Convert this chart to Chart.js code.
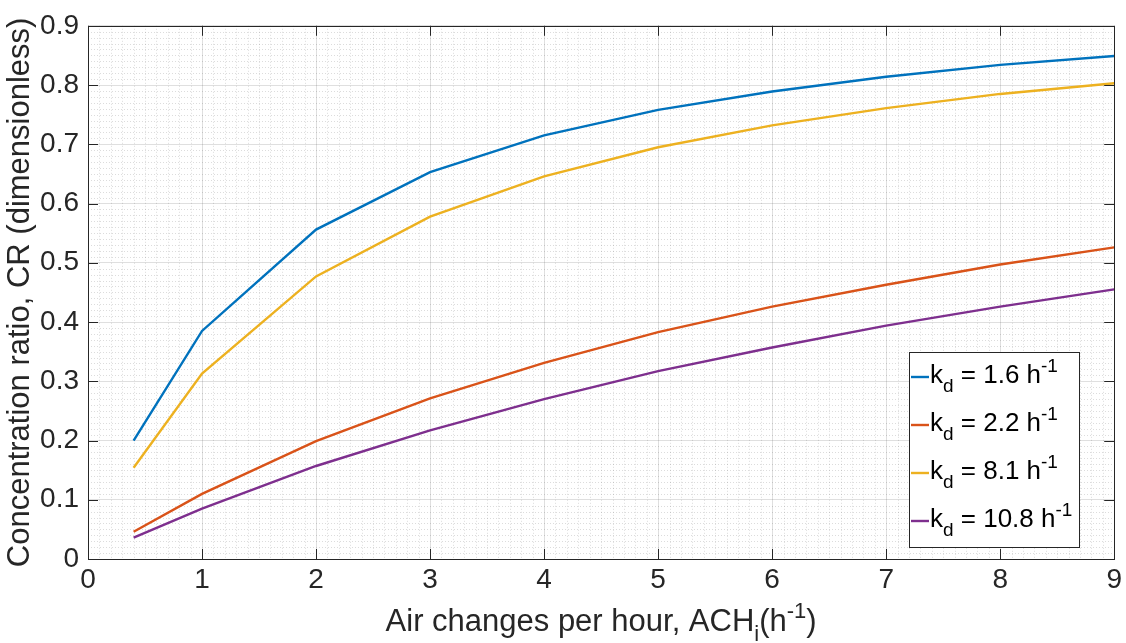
<!DOCTYPE html>
<html>
<head>
<meta charset="utf-8">
<script src="https://cdn.jsdelivr.net/npm/chart.js@4.4.0/dist/chart.umd.min.js"></script>
<style>
  html, body { margin: 0; padding: 0; background: #fff; }
  canvas { display: block; }
</style>
</head>
<body>
<canvas id="chartCR" width="1126" height="643"></canvas>
<script>
// air changes per hour (x)
const ach = [0.4, 1, 2, 3, 4, 5, 6, 7, 8, 9];
// concentration ratio for each deposition rate kd
const cr16 = [0.200, 0.385, 0.556, 0.653, 0.715, 0.758, 0.789, 0.814, 0.834, 0.849];
const cr22 = [0.046, 0.110, 0.199, 0.271, 0.331, 0.383, 0.426, 0.463, 0.497, 0.526];
const cr81 = [0.154, 0.313, 0.477, 0.578, 0.646, 0.695, 0.732, 0.761, 0.785, 0.803];
const cr108 = [0.036, 0.085, 0.157, 0.217, 0.270, 0.317, 0.357, 0.394, 0.426, 0.455];
const kdValues = ["1.6", "2.2", "8.1", "10.8"];
const xTicks = [0, 1, 2, 3, 4, 5, 6, 7, 8, 9];
const yTicks = [0, 0.1, 0.2, 0.3, 0.4, 0.5, 0.6, 0.7, 0.8, 0.9];

const colors = ["#0072BD", "#D95319", "#EDB120", "#7E2F8E"];
const FONT = '"Liberation Sans", Helvetica, Arial, sans-serif';
const INK = "#262626";

const toPoints = ys => ach.map((x, i) => ({x: x, y: ys[i]}));

// draws text made of pieces, some of them sub/superscript
function drawRich(ctx, parts, x, y, size, align) {
    const small = Math.round(size * 0.72);
    let widths = parts.map(p => {
        ctx.font = (p.sub || p.sup ? small : size) + "px " + FONT;
        return ctx.measureText(p.t).width;
    });
    let total = widths.reduce((a, b) => a + b, 0);
    let cx = align === "center" ? x - total / 2 : x;
    parts.forEach((p, i) => {
        ctx.font = (p.sub || p.sup ? small : size) + "px " + FONT;
        let dy = p.sub ? size * 0.33 : (p.sup ? -size * 0.42 : 0);
        ctx.fillText(p.t, cx, y + dy);
        cx += widths[i];
    });
}

const matlabFrame = {
    id: "matlabFrame",
    beforeDatasetsDraw(chart) {
        const {ctx, chartArea: a, scales: {x, y}} = chart;
        ctx.save();
        ctx.strokeStyle = "rgba(38,38,38,0.16)";
        ctx.lineWidth = 1;
        ctx.setLineDash([1, 2]);
        for (let i = 1; i < 90; i++) {
            if (i % 10 === 0) continue;
            let px = Math.round(x.getPixelForValue(i / 10)) + 0.5;
            ctx.beginPath(); ctx.moveTo(px, a.top); ctx.lineTo(px, a.bottom); ctx.stroke();
            let py = Math.round(y.getPixelForValue(i / 100)) + 0.5;
            ctx.beginPath(); ctx.moveTo(a.left, py); ctx.lineTo(a.right, py); ctx.stroke();
        }
        ctx.restore();
    },
    afterDatasetsDraw(chart) {
        const {ctx, chartArea: a, scales: {x, y}} = chart;
        ctx.save();
        // box + inward ticks
        ctx.strokeStyle = INK;
        ctx.lineWidth = 1;
        ctx.strokeRect(Math.round(a.left) + 0.5, Math.round(a.top) + 0.5,
            Math.round(a.right - a.left), Math.round(a.bottom - a.top));
        const tl = 10;
        xTicks.forEach(v => {
            let px = Math.round(x.getPixelForValue(v)) + 0.5;
            ctx.beginPath();
            ctx.moveTo(px, a.bottom); ctx.lineTo(px, a.bottom - tl);
            ctx.moveTo(px, a.top); ctx.lineTo(px, a.top + tl);
            ctx.stroke();
        });
        yTicks.forEach(v => {
            let py = Math.round(y.getPixelForValue(v)) + 0.5;
            ctx.beginPath();
            ctx.moveTo(a.left, py); ctx.lineTo(a.left + tl, py);
            ctx.moveTo(a.right, py); ctx.lineTo(a.right - tl, py);
            ctx.stroke();
        });

        // legend
        const lx = 909, ly = 352, lw = 170, lh = 195;
        ctx.fillStyle = "#fff";
        ctx.fillRect(lx, ly, lw, lh);
        ctx.strokeStyle = INK;
        ctx.strokeRect(lx + 0.5, ly + 0.5, lw, lh);
        chart.data.datasets.forEach((ds, i) => {
            let rowY = ly + 25 + i * 48;
            ctx.strokeStyle = ds.borderColor;
            ctx.lineWidth = 2.4;
            ctx.beginPath(); ctx.moveTo(lx + 2, rowY); ctx.lineTo(lx + 20, rowY); ctx.stroke();
            ctx.fillStyle = "#000";
            ctx.textBaseline = "alphabetic";
            ctx.textAlign = "left";
            drawRich(ctx, [
                {t: "k"}, {t: "d", sub: true}, {t: " = " + kdValues[i] + " h"}, {t: "-1", sup: true}
            ], lx + 21, rowY + 6, 26, "left");
        });
        ctx.restore();
    },
    afterDraw(chart) {
        const {ctx, chartArea: a} = chart;
        ctx.save();
        ctx.fillStyle = INK;
        ctx.textBaseline = "alphabetic";
        ctx.textAlign = "left";
        drawRich(ctx, [
            {t: "Air changes per hour, ACH"}, {t: "i", sub: true}, {t: "(h"}, {t: "-1", sup: true}, {t: ")"}
        ], (a.left + a.right) / 2, 631, 31, "center");
        ctx.translate(29, (a.top + a.bottom) / 2);
        ctx.rotate(-Math.PI / 2);
        ctx.textAlign = "center";
        ctx.font = "31px " + FONT;
        ctx.fillText("Concentration ratio, CR (dimensionless)", 0, 0);
        ctx.restore();
    }
};

let chartElement = document.querySelector("#chartCR").getContext("2d");
new Chart(chartElement, {
    type: "line",
    data: {
        datasets: [cr16, cr22, cr81, cr108].map((ys, i) => ({
            label: "kd = " + kdValues[i] + " h-1",
            data: toPoints(ys),
            borderColor: colors[i],
            backgroundColor: colors[i],
            borderWidth: 2.4,
            pointRadius: 0,
            tension: 0,
            fill: false
        }))
    },
    options: {
        responsive: false,
        animation: false,
        devicePixelRatio: 1,
        layout: {padding: {left: 0, top: 22, right: 10, bottom: 0}, autoPadding: false},
        plugins: {legend: {display: false}, tooltip: {enabled: false}},
        scales: {
            x: {
                type: "linear",
                min: 0, max: 9,
                afterFit: s => { s.height = 84; },
                afterBuildTicks: s => { s.ticks = xTicks.map(v => ({value: v})); },
                ticks: {font: {size: 28, family: FONT}, color: INK, padding: 4, maxRotation: 0,
                    callback: v => String(v)},
                grid: {color: "rgba(38,38,38,0.15)", drawTicks: false},
                border: {display: false}
            },
            y: {
                type: "linear",
                min: 0, max: 0.9,
                afterFit: s => { s.width = 88; },
                afterBuildTicks: s => { s.ticks = yTicks.map(v => ({value: v})); },
                ticks: {font: {size: 28, family: FONT}, color: INK, padding: 9,
                    callback: v => v === 0 ? "0" : v.toFixed(1)},
                grid: {color: "rgba(38,38,38,0.15)", drawTicks: false},
                border: {display: false}
            }
        }
    },
    plugins: [matlabFrame]
});
</script>
</body>
</html>
